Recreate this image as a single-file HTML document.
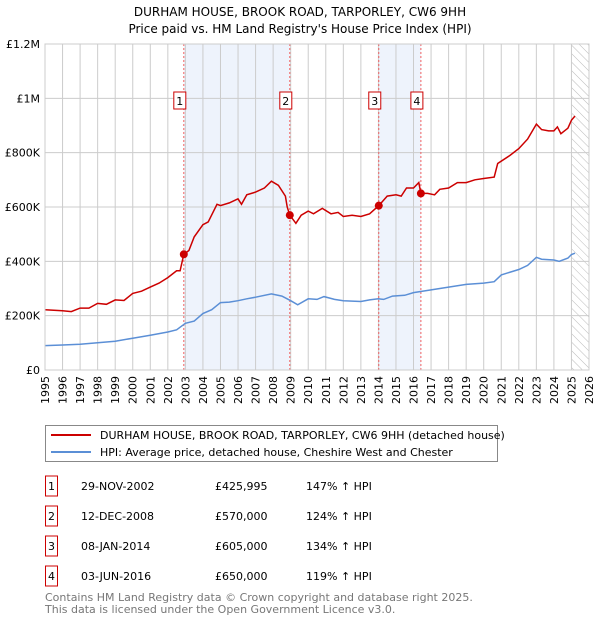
<!DOCTYPE html>
<html><head><meta charset="utf-8"><style>
body{margin:0;background:#fff;font-family:"DejaVu Sans","Liberation Sans",sans-serif;}
svg text{font-family:"DejaVu Sans","Liberation Sans",sans-serif;}
</style></head><body>
<svg id="chart" width="600" height="620" xmlns="http://www.w3.org/2000/svg">
<defs><pattern id="hatch" width="6" height="6" patternUnits="userSpaceOnUse" patternTransform="rotate(-45)"><line x1="0" y1="0" x2="0" y2="6" stroke="#bbb" stroke-width="1"/></pattern></defs>
<text x="300" y="16" text-anchor="middle" font-size="12">DURHAM HOUSE, BROOK ROAD, TARPORLEY, CW6 9HH</text>
<text x="300" y="33" text-anchor="middle" font-size="12">Price paid vs. HM Land Registry's House Price Index (HPI)</text>
<g id="plot"></g>
<rect x="45.5" y="425.5" width="452" height="36" fill="#fff" stroke="#888"/>
<line x1="51" y1="435" x2="91" y2="435" stroke="#cc0000" stroke-width="2"/>
<text x="100" y="439" font-size="11">DURHAM HOUSE, BROOK ROAD, TARPORLEY, CW6 9HH (detached house)</text>
<line x1="51" y1="452" x2="91" y2="452" stroke="#5b8fd6" stroke-width="2"/>
<text x="100" y="456" font-size="11">HPI: Average price, detached house, Cheshire West and Chester</text>
<g id="table"></g>
<text x="45" y="601" font-size="11" fill="#777">Contains HM Land Registry data © Crown copyright and database right 2025.</text>
<text x="45" y="613" font-size="11" fill="#777">This data is licensed under the Open Government Licence v3.0.</text>
</svg>
<script>
const redX=[1995,1996,1996.5,1997,1997.5,1998,1998.5,1999,1999.5,2000,2000.5,2001,2001.5,2002,2002.5,2002.7,2002.91,2003.2,2003.5,2004,2004.3,2004.8,2005,2005.5,2006,2006.2,2006.5,2007,2007.5,2007.9,2008.3,2008.7,2008.8,2008.95,2009.3,2009.6,2010,2010.3,2010.8,2011.3,2011.7,2012,2012.5,2013,2013.5,2014.02,2014.5,2015,2015.3,2015.6,2016,2016.3,2016.42,2016.8,2017.2,2017.5,2018,2018.5,2019,2019.5,2020,2020.6,2020.8,2021.5,2022,2022.5,2023,2023.3,2023.7,2024,2024.2,2024.4,2024.8,2025,2025.2];
const redY=[222,218,215,228,228,245,242,258,256,282,290,305,320,340,365,365,426,440,490,535,545,610,605,615,630,610,645,655,670,695,680,640,600,570,540,570,585,575,595,575,580,565,570,565,575,605,640,645,640,670,670,690,650,650,645,665,670,690,690,700,705,710,760,790,815,850,905,885,880,880,895,870,890,920,935];
const hpiX=[1995,1996,1997,1998,1999,2000,2001,2002,2002.5,2003,2003.5,2004,2004.5,2005,2005.5,2006,2006.5,2007,2007.9,2008.5,2009,2009.4,2010,2010.5,2010.9,2011.5,2012,2013,2013.5,2014,2014.3,2014.8,2015.5,2016,2016.5,2017,2018,2019,2020,2020.6,2021,2022,2022.5,2023,2023.3,2024,2024.3,2024.8,2025,2025.2];
const hpiY=[90,92,95,100,106,117,128,140,148,172,180,208,222,248,250,255,262,268,280,272,255,240,262,260,270,260,255,252,258,262,260,272,275,285,290,295,305,315,320,325,350,370,385,415,408,405,400,412,425,430];
const saleX=[2002.91,2008.95,2014.02,2016.42];
const saleY=[426,570,605,650];
const saleLabels=["1","2","3","4"];
const saleDates=["29-NOV-2002","12-DEC-2008","08-JAN-2014","03-JUN-2016"];
const salePrices=["£425,995","£570,000","£605,000","£650,000"];
const saleHpi=["147% ↑ HPI","124% ↑ HPI","134% ↑ HPI","119% ↑ HPI"];
const yTicks=[0,200,400,600,800,1000,1200];
const yTickLabels=["£0","£200K","£400K","£600K","£800K","£1M","£1.2M"];
const NS="http://www.w3.org/2000/svg";
const L=45,R=589,T=44,B=370;
const sx=v=>L+(v-1995)/31*(R-L);
const sy=v=>B-v/1200*(B-T);
const g=document.getElementById('plot');
function el(t,a,p){const e=document.createElementNS(NS,t);for(const k in a)e.setAttribute(k,a[k]);(p||g).appendChild(e);return e;}
[[0,1],[2,3]].forEach(([a,b])=>{const r=el('rect',{x:sx(saleX[a]),y:T,width:sx(saleX[b])-sx(saleX[a]),height:B-T,fill:'#eef3fc'});

});
const h=el('rect',{x:sx(2025),y:T,width:R-sx(2025),height:B-T,fill:'url(#hatch)'});


for(let y=1995;y<=2026;y++){const ln=el('line',{x1:sx(y),x2:sx(y),y1:T,y2:B,stroke:'#ccc','stroke-width':1});


const t=el('text',{x:0,y:0,'font-size':11,'text-anchor':'end',transform:`translate(${sx(y)+4},376) rotate(-90)`});t.textContent=y;

}
yTicks.forEach((v,i)=>{const ln=el('line',{x1:L,x2:R,y1:sy(v),y2:sy(v),stroke:'#ccc','stroke-width':1});


const t=el('text',{x:L-5,y:sy(v)+4,'font-size':11,'text-anchor':'end'});t.textContent=yTickLabels[i];

});
saleX.forEach((v,i)=>{const ln=el('line',{x1:sx(v),x2:sx(v),y1:T,y2:B,stroke:'#f06060','stroke-width':1,'stroke-dasharray':'2,2'});


const bx=el('rect',{x:sx(v)-10,y:92,width:12,height:17,fill:'#fff',stroke:'#cc0000'});


const t=el('text',{x:sx(v)-4,y:105,'font-size':11,'text-anchor':'middle'});t.textContent=saleLabels[i];

});
const path=(xs,ys)=>xs.map((x,i)=>(i?'L':'M')+sx(x).toFixed(1)+','+sy(ys[i]).toFixed(1)).join('');
const hp=el('path',{d:path(hpiX,hpiY),fill:'none',stroke:'#5b8fd6','stroke-width':1.5});


const rp=el('path',{d:path(redX,redY),fill:'none',stroke:'#cc0000','stroke-width':1.5});


saleX.forEach((v,i)=>{const c=el('circle',{cx:sx(v),cy:sy(saleY[i]),r:4,fill:'#cc0000'});

});
const ax=el('rect',{x:L,y:T,width:R-L,height:B-T,fill:'none',stroke:'#ccc'});


const tb=document.getElementById('table');
saleLabels.forEach((s,i)=>{const y=490+i*30;
const bx=el('rect',{x:45.5,y:y-14,width:12,height:20,fill:'#fff',stroke:'#cc0000'},tb);


const cells=[[51.5,s,'middle'],[81,saleDates[i],'start'],[215,salePrices[i],'start'],[306,saleHpi[i],'start']];
cells.forEach(([x,txt,an])=>{const t=el('text',{x:x,y:y,'font-size':11,'text-anchor':an},tb);t.textContent=txt;

});});
</script>
</body></html>
